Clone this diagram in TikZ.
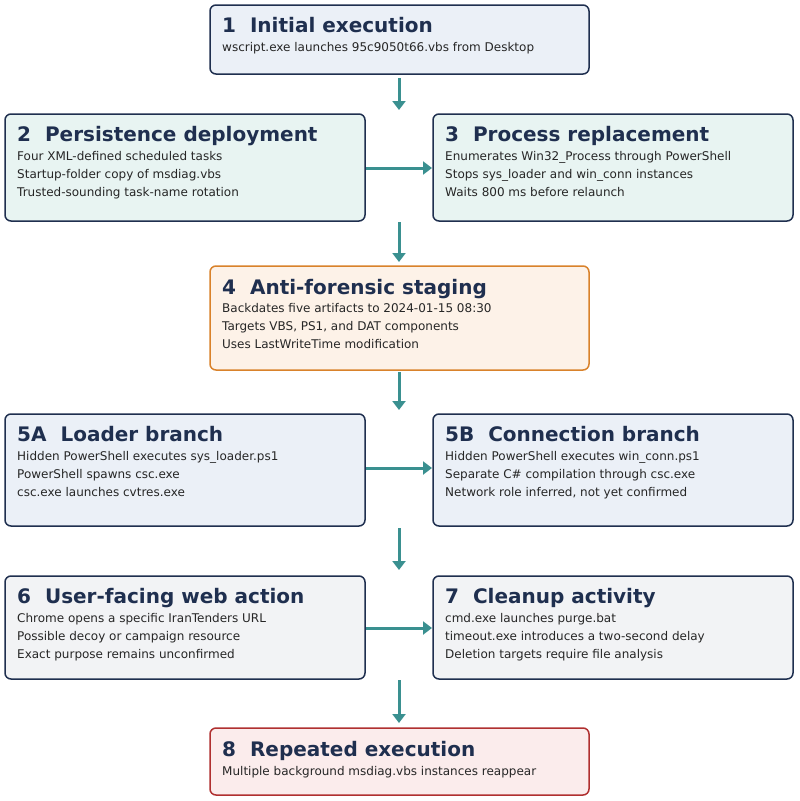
\documentclass[tikz,border=0pt]{standalone}
\usepackage{fontspec}
\setmainfont{DejaVu Sans}
\usetikzlibrary{arrows.meta}
\definecolor{navy}{HTML}{1F2F4F}
\definecolor{teal}{HTML}{3A9090}
\definecolor{fblue}{HTML}{EBF0F7}
\definecolor{fteal}{HTML}{E8F4F2}
\definecolor{forange}{HTML}{FDF2E8}
\definecolor{borange}{HTML}{D9822B}
\definecolor{fgray}{HTML}{F2F3F5}
\definecolor{fred}{HTML}{FBECEC}
\definecolor{bred}{HTML}{B03030}
\begin{document}
\begin{tikzpicture}[x=1pt,y=-1pt,
 box/.style={draw=navy,line width=1.5pt,rounded corners=6pt},
 ttl/.style={anchor=base west,inner sep=0,font=\fontsize{20}{20}\selectfont\bfseries,text=navy},
 bod/.style={anchor=north west,inner sep=0,font=\fontsize{12}{18}\selectfont,text=black!85,align=left},
 arr/.style={draw=teal,line width=3pt,-{Triangle[length=9pt,width=13pt]}}]
\useasboundingbox (0,0) rectangle (800,801);
\fill[white] (0,0) rectangle (800,801);
% boxes
\draw[box,fill=fblue] (210,5) rectangle (589,74);
\draw[box,fill=fteal] (5,114) rectangle (365,221);
\draw[box,fill=fteal] (433,114) rectangle (793,221);
\draw[box,fill=forange,draw=borange] (210,266) rectangle (589,370);
\draw[box,fill=fblue] (5,414) rectangle (365,526);
\draw[box,fill=fblue] (433,414) rectangle (793,526);
\draw[box,fill=fgray] (5,576) rectangle (365,679);
\draw[box,fill=fgray] (433,576) rectangle (793,679);
\draw[box,fill=fred,draw=bred] (210,728) rectangle (589,795);
% texts
\node[ttl] (t1) at (222,32) {1\ \ Initial execution};
\node[bod] (d1) at (222,42) {wscript.exe launches 95c9050t66.vbs from Desktop};
\node[ttl] (t2) at (17,141) {2\ \ Persistence deployment};
\node[bod] (d2) at (17,151) {Four XML-defined scheduled tasks\\Startup-folder copy of msdiag.vbs\\Trusted-sounding task-name rotation};
\node[ttl] (t3) at (445,141) {3\ \ Process replacement};
\node[bod] (d3) at (445,151) {Enumerates Win32\_Process through PowerShell\\Stops sys\_loader and win\_conn instances\\Waits 800 ms before relaunch};
\node[ttl] (t4) at (222,294) {4\ \ Anti-forensic staging};
\node[bod] (d4) at (222,303) {Backdates five artifacts to 2024-01-15 08:30\\Targets VBS, PS1, and DAT components\\Uses LastWriteTime modification};
\node[ttl] (t5a) at (17,441) {5A\ \ Loader branch};
\node[bod] (d5a) at (17,451) {Hidden PowerShell executes sys\_loader.ps1\\PowerShell spawns csc.exe\\csc.exe launches cvtres.exe};
\node[ttl] (t5b) at (445,441) {5B\ \ Connection branch};
\node[bod] (d5b) at (445,451) {Hidden PowerShell executes win\_conn.ps1\\Separate C\# compilation through csc.exe\\Network role inferred, not yet confirmed};
\node[ttl] (t6) at (17,603) {6\ \ User-facing web action};
\node[bod] (d6) at (17,613) {Chrome opens a specific IranTenders URL\\Possible decoy or campaign resource\\Exact purpose remains unconfirmed};
\node[ttl] (t7) at (445,603) {7\ \ Cleanup activity};
\node[bod] (d7) at (445,613) {cmd.exe launches purge.bat\\timeout.exe introduces a two-second delay\\Deletion targets require file analysis};
\node[ttl] (t8) at (222,756) {8\ \ Repeated execution};
\node[bod] (d8) at (222,766) {Multiple background msdiag.vbs instances reappear};
% connectors
\coordinate (a1) at (399,78); \coordinate (a2) at (399,110);
\coordinate (h1) at (366,168); \coordinate (h2) at (432,168);
\coordinate (a3) at (399,222); \coordinate (a4) at (399,262);
\coordinate (a5) at (399,372); \coordinate (a6) at (399,410);
\coordinate (h3) at (366,468); \coordinate (h4) at (432,468);
\coordinate (a7) at (399,528); \coordinate (a8) at (399,570);
\coordinate (h5) at (366,628); \coordinate (h6) at (432,628);
\coordinate (a9) at (399,680); \coordinate (a10) at (399,723);
\draw[arr] (a1)--(a2); \draw[arr] (h1)--(h2); \draw[arr] (a3)--(a4);
\draw[arr] (a5)--(a6); \draw[arr] (h3)--(h4); \draw[arr] (a7)--(a8);
\draw[arr] (h5)--(h6); \draw[arr] (a9)--(a10);
\end{tikzpicture}
\end{document}
